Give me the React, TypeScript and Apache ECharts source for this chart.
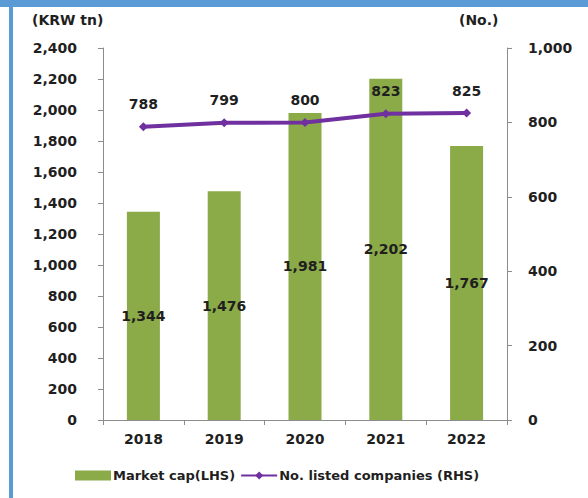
import React, { useEffect, useRef } from "react";
import * as echarts from "echarts";

const categories = ["2018", "2019", "2020", "2021", "2022"];
const marketCap = [1344, 1476, 1981, 2202, 1767];
const listedCompanies = [788, 799, 800, 823, 825];
const leftUnit = "(KRW tn)";
const rightUnit = "(No.)";

const FONT = "'DejaVu Sans', Verdana, sans-serif";
const TXT = "#1f1f1f";
const fmt = (v: number) => v.toLocaleString("en-US");

export default function App() {
  const ref = useRef<HTMLDivElement>(null);
  useEffect(() => {
    if (!ref.current) return;
    const chart = echarts.init(ref.current, undefined, { renderer: "svg" });
    chart.setOption({
      animation: false,
      backgroundColor: "#ffffff",
      textStyle: { fontFamily: FONT },
      grid: { left: 103, right: 81, top: 48, bottom: 78 },
      graphic: [
        { type: "rect", shape: { x: 0, y: 0, width: 588, height: 7 }, style: { fill: "#5B9BD5" }, silent: true },
        { type: "rect", shape: { x: 9, y: 0, width: 4, height: 498 }, style: { fill: "#5B9BD5" }, silent: true },
        {
          type: "text", left: 32, top: 13,
          style: { text: leftUnit, font: `bold 14px ${FONT}`, fill: TXT },
        },
        {
          type: "text", left: 459, top: 13,
          style: { text: rightUnit, font: `bold 14px ${FONT}`, fill: TXT },
        },
      ],
      legend: {
        left: 70,
        top: 464,
        itemWidth: 36,
        itemHeight: 10,
        itemGap: 5,
        textStyle: { fontFamily: FONT, fontWeight: "bold", fontSize: 13, color: TXT, padding: [0, 0, 0, -3] },
        data: [
          { name: "Market cap(LHS)", icon: "rect" },
          { name: "No. listed companies (RHS)" },
        ],
      },
      xAxis: {
        type: "category",
        data: categories,
        axisLine: { lineStyle: { color: "#8c8c8c" } },
        axisTick: { show: true, length: 5, lineStyle: { color: "#8c8c8c" } },
        axisLabel: { color: TXT, fontWeight: "bold", fontSize: 14, margin: 12, fontFamily: FONT },
      },
      yAxis: [
        {
          type: "value",
          min: 0,
          max: 2400,
          interval: 200,
          splitLine: { show: false },
          axisLine: { show: true, lineStyle: { color: "#8c8c8c" } },
          axisTick: { show: true, length: 5, lineStyle: { color: "#8c8c8c" } },
          axisLabel: { color: TXT, fontWeight: "bold", fontSize: 14, margin: 26, formatter: (v: number) => fmt(v), fontFamily: FONT },
        },
        {
          type: "value",
          min: 0,
          max: 1000,
          interval: 200,
          position: "right",
          splitLine: { show: false },
          axisLine: { show: true, lineStyle: { color: "#8c8c8c" } },
          axisTick: { show: true, length: 5, lineStyle: { color: "#8c8c8c" } },
          axisLabel: { color: TXT, fontWeight: "bold", fontSize: 14, margin: 21, formatter: (v: number) => fmt(v), fontFamily: FONT },
        },
      ],
      series: [
        {
          name: "Market cap(LHS)",
          type: "bar",
          yAxisIndex: 0,
          data: marketCap,
          barWidth: 33,
          itemStyle: { color: "#8BAA48" },
          label: {
            show: true,
            position: "inside",
            color: TXT,
            fontWeight: "bold",
            fontSize: 14,
            fontFamily: FONT,
            formatter: (p: any) => fmt(p.value),
          },
        },
        {
          name: "No. listed companies (RHS)",
          type: "line",
          yAxisIndex: 1,
          data: listedCompanies,
          symbol: "diamond",
          symbolSize: 9,
          lineStyle: { color: "#7030A0", width: 4 },
          itemStyle: { color: "#7030A0" },
          label: {
            show: true,
            position: "top",
            distance: 11,
            color: TXT,
            fontWeight: "bold",
            fontSize: 14,
            fontFamily: FONT,
          },
        },
      ],
    });
    return () => chart.dispose();
  }, []);
  return (
    <div
      ref={ref}
      style={{ position: "fixed", left: 0, top: 0, width: 588, height: 498 }}
    />
  );
}
